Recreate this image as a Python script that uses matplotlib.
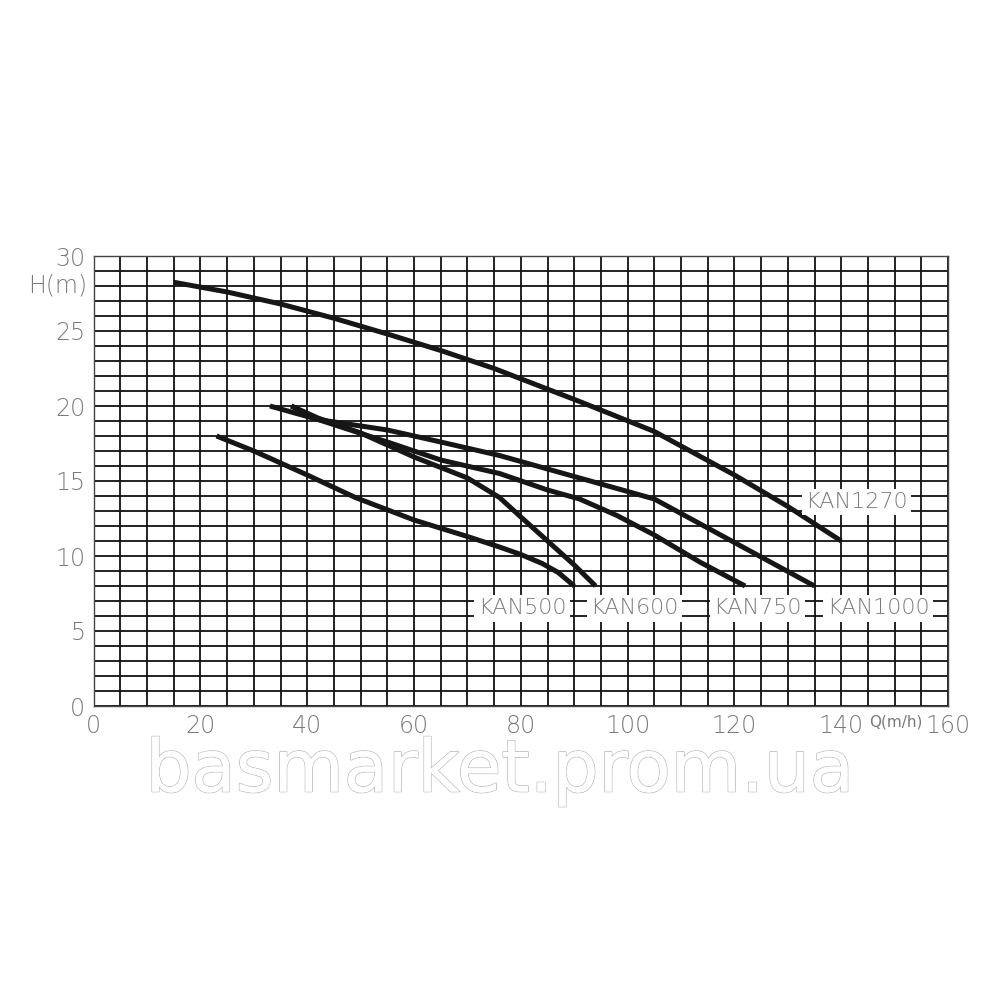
import matplotlib.pyplot as plt
import matplotlib.patheffects as pe

# Pump curves (Q in m3/h, H in m)
q_500 = [23, 30, 40, 49, 60, 70, 76, 80, 84, 87, 90]
h_500 = [18, 17, 15.4, 13.9, 12.4, 11.3, 10.6, 10.1, 9.5, 8.9, 8.0]

q_600 = [37, 42, 50, 60, 70, 76, 80, 85, 90, 94]
h_600 = [20, 19.2, 18.2, 16.6, 15.2, 13.9, 12.6, 11.0, 9.4, 8.0]

q_750 = [37, 42, 55, 65, 76, 85, 91, 98, 105, 113.5, 122]
h_750 = [20, 19.1, 17.6, 16.4, 15.5, 14.4, 13.8, 12.7, 11.4, 9.6, 8.0]

q_1000 = [33, 42, 55, 65, 76, 85, 95, 105, 120, 135]
h_1000 = [20, 19.1, 18.4, 17.6, 16.7, 15.8, 14.8, 13.8, 10.9, 8.0]

q_1270 = [15, 25, 35, 45, 55, 65, 75, 91, 105, 120, 130, 140]
h_1270 = [28.25, 27.6, 26.8, 25.85, 24.8, 23.7, 22.5, 20.3, 18.3, 15.4, 13.3, 11.0]

x_ticks = [0, 20, 40, 60, 80, 100, 120, 140, 160]
y_ticks = [0, 5, 10, 15, 20, 25, 30]

# label name, Q, H
labels = [("KAN500", 80.2, 6.5), ("KAN600", 101.3, 6.5), ("KAN750", 124.3, 6.5),
          ("KAN1000", 146.9, 6.5), ("KAN1270", 142.8, 13.6)]

gray = "#7a7a7a"
fig = plt.figure(figsize=(10, 10), dpi=100)
ax = fig.add_axes([0.0937, 0.294, 0.8543, 0.45])

ax.set_xlim(0, 160)
ax.set_ylim(0, 30)
ax.set_xticks(x_ticks)
ax.set_yticks(y_ticks)
ax.set_xticks(range(0, 161, 5), minor=True)
ax.set_yticks(range(0, 31, 1), minor=True)
ax.grid(True, which="both", color="#111111", lw=1.3)
ax.set_axisbelow(True)
ax.tick_params(which="both", length=0, labelsize=17, labelcolor=gray, pad=6)
for lab in ax.get_xticklabels() + ax.get_yticklabels():
    lab.set_fontweight("light")
for s in ax.spines.values():
    s.set_color("#444444")
    s.set_linewidth(1.0)

for q, h in [(q_500, h_500), (q_600, h_600), (q_750, h_750), (q_1000, h_1000), (q_1270, h_1270)]:
    ax.plot(q, h, color="#161616", lw=3.6, solid_capstyle="butt",
            solid_joinstyle="round", zorder=3)

for name, q, h in labels:
    ax.text(q, h, name, ha="center", va="center", fontsize=16, color=gray, zorder=4,
            fontweight="light",
            bbox=dict(boxstyle="square,pad=0.15", fc="white", ec="none"))

ax.text(-1.2, 28.0, "H(m)", ha="right", va="center", fontsize=17, color=gray,
        fontweight="light", clip_on=False)
ax.text(150.3, -1.05, "Q(m/h)", ha="center", va="center", fontsize=11, color=gray,
        clip_on=False)

fig.text(0.5, 0.228, "basmarket.prom.ua", ha="center", va="center", fontsize=52,
         color="white", family=["Liberation Sans Narrow", "DejaVu Sans"],
         path_effects=[pe.withStroke(linewidth=1.2, foreground="#bdbdbd"),
                       pe.Normal()])

fig.savefig("out.png", dpi=100, facecolor="white")
